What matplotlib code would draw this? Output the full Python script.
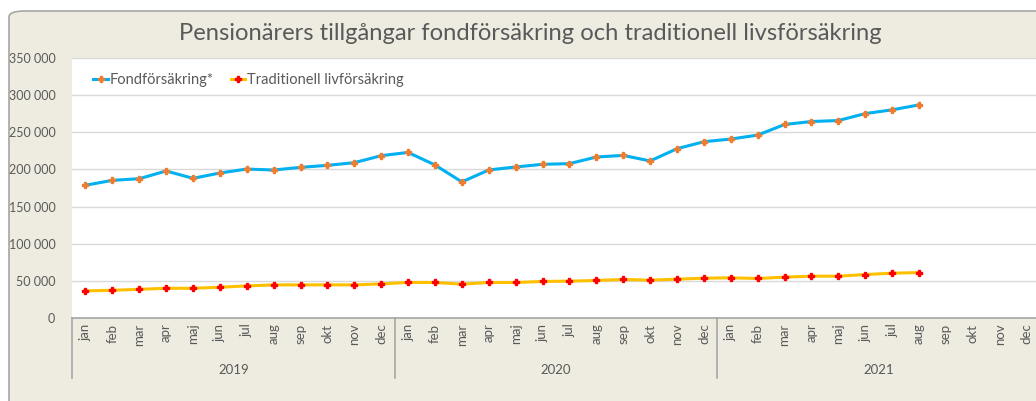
# Pensionärers tillgångar - fond- och traditionell livförsäkring

import numpy as np
import matplotlib.pyplot as plt
from matplotlib.patches import FancyBboxPatch
from matplotlib.ticker import FuncFormatter
import matplotlib.transforms as mtrans

plt.rcParams['font.family'] = ['Lato', 'DejaVu Sans']

months = ['jan', 'feb', 'mar', 'apr', 'maj', 'jun', 'jul', 'aug', 'sep', 'okt', 'nov', 'dec']
years = ['2019', '2020', '2021']

# values in MSEK, jan 2019 - aug 2021
fond = [178700, 185300, 187500, 197900, 188000, 195200, 200500, 199200, 202800, 205500, 209100, 218500,
        222900, 206000, 183200, 199300, 203300, 206900, 207800, 216700, 218900, 211400, 227900, 237300,
        240900, 246200, 260500, 264500, 265800, 275200, 280200, 286900]
trad = [36500, 37300, 38600, 40000, 40000, 41400, 43200, 44600, 44600, 44600, 44600, 45900,
        47900, 47800, 45600, 47800, 47800, 49200, 49600, 50500, 51900, 50900, 52300, 53600,
        54100, 53200, 55000, 56300, 56300, 58500, 60300, 61200]

bg = '#EEECE1'
txt = '#595959'

fig = plt.figure(figsize=(10.36, 4.01), dpi=100)
fig.patch.set_facecolor('white')
frame = FancyBboxPatch((9/1036, -0.05), 1.05, (401-11)/401 + 0.05,
                       boxstyle='round,pad=0,rounding_size=0.015',
                       transform=fig.transFigure, facecolor=bg, edgecolor='#A6A6A6', lw=1.2,
                       zorder=-5)
fig.patches.append(frame)

fig.text(530/1036, 1 - 33/401, 'Pensionärers tillgångar fondförsäkring och traditionell livsförsäkring',
         ha='center', va='center', fontsize=17.1, color=txt)

ax = fig.add_axes([72/1036, 83/401, 968/1036, 260/401])
ax.set_facecolor('white')
ax.set_zorder(2)

n = len(months) * len(years)
x = np.arange(n)
ax.plot(x[:len(fond)], fond, color='#00B0F0', lw=2.2, marker='P', ms=4.5,
        mfc='#ED7D31', mec='#ED7D31', label='Fondförsäkring*', zorder=3)
ax.plot(x[:len(trad)], trad, color='#FFC000', lw=2.2, marker='P', ms=4.5,
        mfc='#FF0000', mec='#FF0000', label='Traditionell livförsäkring', zorder=3)

ax.set_xlim(-0.5, n - 0.5)
ax.set_ylim(0, 350000)
ax.set_yticks(np.arange(0, 350001, 50000))
ax.yaxis.set_major_formatter(FuncFormatter(lambda v, p: f'{int(v):,}'.replace(',', ' ')))
ax.grid(axis='y', color='#D9D9D9', lw=1)
ax.set_axisbelow(True)
ax.tick_params(axis='y', length=0, labelsize=9, labelcolor=txt, pad=12)

for s in ['top', 'right', 'left']:
    ax.spines[s].set_visible(False)
ax.spines['bottom'].set_color('#A6A6A6')
ax.spines['bottom'].set_linewidth(1.2)

ax.set_xticks(x)
ax.set_xticklabels(months * len(years), rotation=90, fontsize=9.5, color=txt, va='top')
ax.tick_params(axis='x', length=0, pad=4)

trans = mtrans.blended_transform_factory(ax.transData, ax.transAxes)
for i, yr in enumerate(years):
    left = i * 12 - 0.5
    ax.plot([left, left], [0, -0.23], transform=trans, color='#A6A6A6', lw=1.2, clip_on=False)
    ax.text(left + 6, -0.2, yr, transform=trans, ha='center', va='center', fontsize=9.5, color=txt)

ax.legend(loc='center left', bbox_to_anchor=(0.022, 0.915), ncol=2, frameon=False,
          fontsize=10.5, handlelength=1.0, handletextpad=0.1, columnspacing=1.2,
          borderpad=0, borderaxespad=0, labelcolor=txt)

fig.savefig('out.png', dpi=100, facecolor=fig.get_facecolor())
